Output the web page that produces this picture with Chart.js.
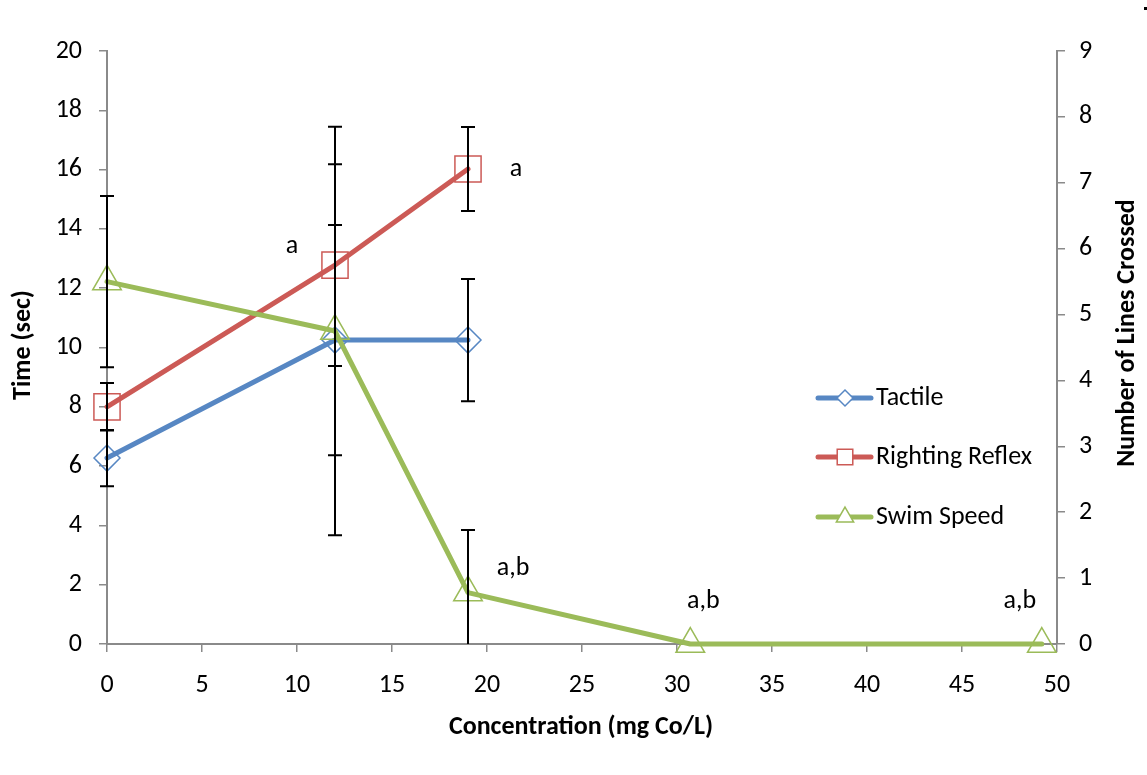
<!DOCTYPE html>
<html>
<head>
<meta charset="utf-8">
<title>Behaviour vs cobalt concentration</title>
<script src="https://cdn.jsdelivr.net/npm/chart.js@4.4.1/dist/chart.umd.min.js"></script>
<style>
  html, body { margin: 0; padding: 0; background: #fff; }
</style>
</head>
<body>
<canvas id="myChart" width="1147" height="775"></canvas>
<script>
// values
const concentration = [0, 12, 19, 30.7, 49.2]
const tactile = [6.27, 10.25, 10.25]
const tactileErr = [0.95, 3.88, 2.06]
const righting = [8.0, 12.78, 16.02]
const rightingErr = [0.8, 3.4, 1.42]
const swimSpeed = [5.5, 4.75, 0.78, 0, 0]
const swimErr = [1.3, 3.1, 0.95, 0, 0]
const rightingSig = ['', 'a', 'a']
const swimSig = ['', '', 'a,b', 'a,b', 'a,b']
const seriesNames = ['Tactile', 'Righting Reflex', 'Swim Speed']

const FONT = "Carlito, Calibri, Lato, sans-serif"
const FS = 26
const AXIS = '#8a8a8a'

function points(ys) {
  return ys.map((y, i) => ({x: concentration[i], y: y}))
}

// where the significance letters sit, relative to their point (px)
const sigOffsets = {
  1: [null, [-43, -19], [48, 0]],
  2: [null, null, [45, -24], [13, -43], [-22, -43]]
}

const errorBars = {
  id: 'errorBars',
  afterDatasetsDraw(chart) {
    const {ctx, chartArea} = chart
    ctx.save()
    ctx.strokeStyle = '#000'
    ctx.lineWidth = 2
    chart.data.datasets.forEach((ds, di) => {
      if (!ds.errors) return
      const meta = chart.getDatasetMeta(di)
      const scale = chart.scales[ds.yAxisID]
      meta.data.forEach((pt, i) => {
        const e = ds.errors[i]
        if (!e) return
        const v = ds.data[i].y
        const top = scale.getPixelForValue(v + e)
        const bot = scale.getPixelForValue(v - e)
        const x = Math.round(pt.x)
        ctx.beginPath()
        ctx.moveTo(x, Math.max(top, chartArea.top))
        ctx.lineTo(x, Math.min(bot, chartArea.bottom))
        if (top >= chartArea.top - 1) { ctx.moveTo(x - 7, top); ctx.lineTo(x + 7, top) }
        if (bot <= chartArea.bottom + 1) { ctx.moveTo(x - 7, bot); ctx.lineTo(x + 7, bot) }
        ctx.stroke()
      })
    })
    ctx.restore()
  }
}

const extras = {
  id: 'extras',
  afterDraw(chart) {
    const ctx = chart.ctx
    ctx.save()
    ctx.fillStyle = '#000'

    // significance letters
    ctx.font = FS + 'px ' + FONT
    ctx.textAlign = 'center'
    ctx.textBaseline = 'middle'
    Object.keys(sigOffsets).forEach(di => {
      const ds = chart.data.datasets[di]
      const meta = chart.getDatasetMeta(di)
      sigOffsets[di].forEach((off, i) => {
        if (!off || !ds.sig[i]) return
        const pt = meta.data[i]
        ctx.fillText(ds.sig[i], pt.x + off[0], pt.y + off[1])
      })
    })

    // axis titles
    ctx.font = 'bold ' + FS + 'px ' + FONT
    ctx.fillText('Concentration (mg Co/L)', 581, 727)
    ctx.save()
    ctx.translate(23, 345)
    ctx.rotate(-Math.PI / 2)
    ctx.fillText('Time (sec)', 0, 0)
    ctx.restore()
    ctx.save()
    ctx.translate(1127, 333)
    ctx.rotate(-Math.PI / 2)
    ctx.fillText('Number of Lines Crossed', 0, 0)
    ctx.restore()

    // legend
    const rows = [398, 457, 517]
    chart.data.datasets.forEach((ds, i) => {
      const y = rows[i]
      ctx.strokeStyle = ds.borderColor
      ctx.lineWidth = 5
      ctx.lineCap = 'round'
      ctx.beginPath()
      ctx.moveTo(818, y)
      ctx.lineTo(871, y)
      ctx.stroke()
      ctx.lineWidth = 1.5
      ctx.fillStyle = '#fff'
      Chart.helpers.drawPoint(ctx, {pointStyle: ds.pointStyle, rotation: 0, radius: ds.legendRadius, borderWidth: 1.5}, 845, y)
      ctx.fillStyle = '#000'
      ctx.font = FS + 'px ' + FONT
      ctx.textAlign = 'left'
      ctx.fillText(ds.label, 876, y)
    })

    ctx.fillRect(1144, 7, 3, 3)
    ctx.restore()
  }
}

const data = {
  datasets: [
    {
      label: seriesNames[0],
      data: points(tactile),
      errors: tactileErr,
      yAxisID: 'y',
      borderColor: '#5787c3',
      pointStyle: 'rectRot',
      pointRadius: 13,
      legendRadius: 8,
      order: 2
    },
    {
      label: seriesNames[1],
      data: points(righting),
      errors: rightingErr,
      sig: rightingSig,
      yAxisID: 'y',
      borderColor: '#cc5a56',
      pointStyle: 'rect',
      pointRadius: 18.5,
      legendRadius: 11,
      order: 1
    },
    {
      label: seriesNames[2],
      data: points(swimSpeed),
      errors: swimErr,
      sig: swimSig,
      yAxisID: 'y1',
      borderColor: '#9bbb59',
      pointStyle: 'triangle',
      pointRadius: 16.5,
      legendRadius: 10,
      order: 0
    }
  ]
}
data.datasets.forEach(ds => {
  ds.borderWidth = 5
  ds.pointBorderColor = ds.borderColor
  ds.pointBackgroundColor = 'rgba(0,0,0,0)'
  ds.pointBorderWidth = 1.5
  ds.pointHoverRadius = ds.pointRadius
  ds.tension = 0
  ds.clip = false
  ds.borderJoinStyle = 'round'
  ds.borderCapStyle = 'round'
})

const tickFont = {family: FONT, size: FS}

new Chart(document.getElementById('myChart'), {
  type: 'line',
  data: data,
  plugins: [errorBars, extras],
  options: {
    responsive: false,
    animation: false,
    events: [],
    layout: {padding: {top: 51, left: 0, right: 0, bottom: 0}},
    plugins: {legend: {display: false}, tooltip: {enabled: false}},
    scales: {
      x: {
        type: 'linear',
        min: 0, max: 50,
        ticks: {stepSize: 5, color: '#000', font: tickFont, padding: 18, maxRotation: 0},
        grid: {drawOnChartArea: false, drawTicks: true, tickLength: 8, color: AXIS, lineWidth: 1.5},
        border: {color: AXIS, width: 2},
        afterFit(scale) { scale.height = 131 }
      },
      y: {
        position: 'left',
        min: 0, max: 20,
        ticks: {stepSize: 2, color: '#000', font: tickFont, padding: 17},
        grid: {drawOnChartArea: false, drawTicks: true, tickLength: 8, color: AXIS, lineWidth: 1.5},
        border: {color: AXIS, width: 2},
        afterFit(scale) { scale.width = 107 }
      },
      y1: {
        position: 'right',
        min: 0, max: 9,
        ticks: {stepSize: 1, color: '#000', font: tickFont, padding: 14},
        grid: {drawOnChartArea: false, drawTicks: true, tickLength: 8, color: AXIS, lineWidth: 1.5},
        border: {color: AXIS, width: 2},
        afterFit(scale) { scale.width = 90 }
      }
    }
  }
})
</script>
</body>
</html>
